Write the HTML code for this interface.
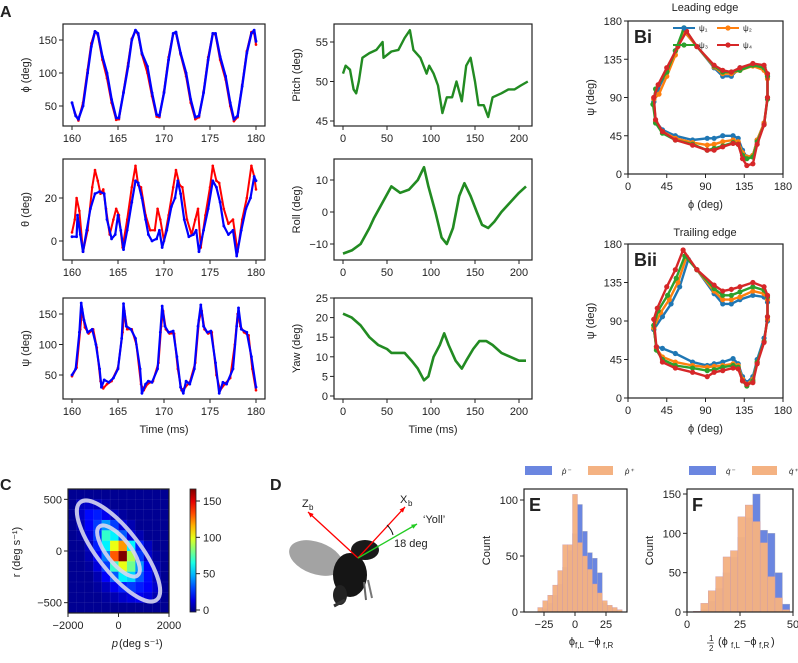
<!DOCTYPE html>
<html><head><meta charset="utf-8"><style>
body{margin:0;background:#fff}
svg{display:block;font-family:"Liberation Sans",sans-serif}
text{fill:#222}
</style></head><body>
<svg id="fig" width="798" height="663" viewBox="0 0 798 663" xmlns="http://www.w3.org/2000/svg">
<g id="g"></g>
</svg>
<script>
// ---------- DATA ----------
const phiBlue=[[160,55],[160.4,35],[160.7,30],[161.2,50],[161.7,100],[162.1,140],[162.5,163],[162.8,160],[163.3,125],[163.8,100],[164.3,60],[164.8,32],[165.1,32],[165.6,70],[166.1,110],[166.5,150],[166.9,165],[167.2,160],[167.6,130],[168.2,110],[168.7,70],[169.2,37],[169.5,35],[170,70],[170.5,120],[171,160],[171.3,162],[171.8,130],[172.4,100],[172.9,60],[173.4,33],[173.8,35],[174.3,70],[174.8,120],[175.3,160],[175.6,160],[176.1,125],[176.7,95],[177.2,55],[177.6,30],[178,35],[178.5,80],[179,130],[179.5,160],[179.8,165],[180,148]];
const phiRed=[[160.3,40],[160.7,28],[161.2,55],[161.7,105],[162.1,145],[162.5,163],[162.8,158],[163.3,120],[163.8,92],[164.3,55],[164.8,29],[165.1,30],[165.6,72],[166.1,115],[166.5,152],[166.9,164],[167.2,158],[167.6,128],[168.2,100],[168.7,65],[169.2,34],[169.5,33],[170,72],[170.5,124],[171,160],[171.3,160],[171.8,128],[172.4,95],[172.9,55],[173.4,30],[173.8,33],[174.3,72],[174.8,124],[175.3,160],[175.6,158],[176.1,120],[176.7,90],[177.2,50],[177.6,27],[178,33],[178.5,82],[179,133],[179.5,162],[179.8,160],[180,143]];
const thBlue=[[160,2],[160.5,2],[160.6,12],[160.9,3],[161.2,-5],[161.6,5],[162,15],[162.5,22],[163,23],[163.5,22],[163.8,10],[164.3,1],[164.7,3],[165,12],[165.3,5],[165.6,-4],[166,5],[166.5,18],[166.9,28],[167.2,27],[167.6,20],[168,10],[168.3,3],[168.7,0],[169.2,1],[169.5,5],[169.8,-3],[170.3,5],[170.8,16],[171.2,20],[171.5,28],[171.8,22],[172.2,10],[172.7,2],[173.2,3],[173.5,5],[173.8,-5],[174.3,5],[174.8,15],[175.3,28],[175.7,25],[176.1,18],[176.5,7],[177,3],[177.5,5],[177.9,-7],[178.4,5],[178.9,15],[179.4,20],[179.8,30],[180,28]];
const thRed=[[160,4],[160.3,10],[160.5,20],[160.8,14],[161.2,-5],[161.7,5],[162.2,25],[162.5,33],[162.8,28],[163.1,22],[163.4,24],[163.7,15],[164.1,3],[164.5,10],[164.8,15],[165.1,12],[165.5,-3],[166,10],[166.5,25],[166.9,35],[167.2,26],[167.5,25],[168,12],[168.5,5],[169,5],[169.3,15],[169.6,10],[170,0],[170.5,12],[171,25],[171.3,33],[171.7,26],[172,25],[172.5,10],[173,3],[173.4,10],[173.7,15],[174,-3],[174.5,12],[175,25],[175.3,35],[175.7,28],[176,27],[176.5,15],[177,8],[177.5,10],[178,-5],[178.5,10],[179,20],[179.5,35],[179.8,30],[180,24]];
const psiBlue=[[160,50],[160.4,60],[160.8,120],[161,168],[161.3,140],[161.7,120],[162.2,125],[162.6,100],[163,60],[163.2,30],[163.5,42],[164,38],[164.5,45],[165,60],[165.4,110],[165.6,167],[165.9,130],[166.4,125],[166.9,110],[167.4,60],[167.6,20],[168,35],[168.3,40],[168.7,38],[169.3,60],[169.6,120],[169.8,163],[170.1,130],[170.5,120],[171,122],[171.4,80],[171.8,30],[172.1,20],[172.4,40],[172.8,35],[173.3,60],[173.7,130],[174,165],[174.3,130],[174.7,120],[175.1,122],[175.6,70],[176,20],[176.4,38],[176.8,35],[177.5,60],[177.9,130],[178.1,160],[178.4,125],[179,120],[179.5,80],[180,30]];
const psiRed=[[160,48],[160.5,62],[160.9,125],[161.1,158],[161.4,128],[161.8,118],[162.3,125],[162.7,95],[163.1,40],[163.4,28],[163.8,35],[164.3,40],[165,62],[165.5,120],[165.7,155],[166,125],[166.5,125],[167,100],[167.5,35],[167.8,25],[168.2,35],[168.8,40],[169.4,70],[169.7,130],[169.9,155],[170.2,125],[170.6,118],[171.1,118],[171.5,60],[171.9,25],[172.3,30],[172.8,38],[173.4,70],[173.8,140],[174.1,155],[174.4,125],[174.8,118],[175.2,120],[175.7,50],[176.1,25],[176.6,35],[177.2,45],[177.7,100],[178,150],[178.3,130],[178.7,120],[179.2,115],[179.6,60],[180,25]];
const pitch=[[0,51],[3,52],[8,51.5],[12,49],[15,48.5],[18,50],[22,53],[30,53.6],[38,54],[45,55],[46,53],[55,53.8],[63,54],[70,55.5],[76,56.5],[80,54],[88,53],[95,51],[98,52],[103,51],[108,49.5],[113,46],[118,48],[124,48],[129,50],[135,47.5],[140,52],[145,53],[150,50],[154,47],[160,47],[165,45.5],[170,48],[180,48.5],[188,49],[195,49],[202,49.5],[210,50]];
const roll=[[0,-13],[10,-12],[20,-10],[30,-5],[35,-2],[45,3],[55,8],[65,6],[75,7],[85,10],[92,14],[97,8],[105,0],[112,-8],[118,-10],[125,-5],[132,5],[138,9],[145,5],[152,0],[158,-4],[165,-5],[172,-3],[180,0],[190,3],[200,6],[208,8]];
const yaw=[[0,21],[10,20],[20,18],[30,15],[40,13],[50,12],[55,11],[62,11],[70,11],[78,9],[85,7],[92,4],[97,5],[103,10],[110,13],[115,16],[120,13],[128,9],[135,7],[140,9],[148,12],[155,14],[163,14],[170,13],[180,11],[190,10],[200,9],[208,9]];
const loopLE1=[[30,85],[32,62],[40,52],[55,45],[75,40],[92,42],[100,42],[110,45],[122,45],[128,42],[133,28],[138,20],[145,22],[150,40],[158,60],[162,90],[162,115],[158,125],[145,128],[130,125],[120,115],[110,115],[100,125],[80,150],[65,168],[55,145],[45,120],[35,100],[30,85]];
const loopLE2=[[30,88],[32,62],[40,50],[55,42],[75,37],[92,34],[100,35],[110,38],[122,40],[128,38],[133,25],[138,20],[145,22],[150,40],[158,60],[162,90],[162,112],[158,122],[145,127],[130,122],[120,118],[110,118],[100,126],[80,150],[65,168],[55,140],[45,115],[36,94],[30,88]];
const loopLE3=[[29,82],[32,60],[40,48],[55,40],[75,35],[92,28],[100,30],[110,33],[122,37],[128,35],[133,22],[138,18],[145,20],[150,38],[158,58],[162,88],[162,115],[158,125],[145,128],[130,122],[120,120],[110,120],[100,127],[80,150],[65,172],[55,145],[45,120],[32,100],[29,82]];
const loopLE4=[[30,90],[32,64],[40,50],[55,40],[75,34],[92,28],[100,28],[110,32],[122,36],[128,35],[133,18],[138,10],[145,12],[150,35],[158,58],[162,90],[162,118],[158,128],[145,130],[130,125],[120,120],[110,122],[100,128],[80,150],[68,168],[58,150],[45,125],[35,105],[30,90]];
const loopTE1=[[30,80],[33,60],[40,58],[55,52],[75,42],[92,38],[100,40],[110,42],[122,46],[128,40],[133,25],[138,18],[145,25],[150,45],[158,70],[162,90],[162,112],[158,118],[145,120],[130,115],[120,110],[110,110],[100,122],[80,150],[70,162],[60,130],[50,110],[40,95],[30,80]];
const loopTE2=[[30,82],[33,58],[40,48],[55,42],[75,38],[92,36],[100,37],[110,38],[122,40],[128,38],[133,22],[138,16],[145,22],[150,42],[158,66],[162,92],[162,115],[158,122],[145,125],[130,118],[120,115],[110,115],[100,125],[80,150],[68,165],[58,135],[48,115],[38,100],[30,82]];
const loopTE3=[[30,85],[33,56],[40,45],[55,38],[75,35],[92,32],[100,33],[110,36],[122,38],[128,36],[133,20],[138,14],[145,20],[150,42],[158,66],[162,95],[162,118],[158,126],[145,130],[130,124],[120,120],[110,120],[100,128],[80,150],[66,166],[56,140],[46,120],[35,102],[30,85]];
const loopTE4=[[30,92],[33,60],[40,42],[55,35],[75,30],[92,25],[100,30],[110,32],[122,35],[128,34],[133,20],[138,16],[145,18],[150,40],[158,65],[162,95],[162,120],[158,130],[145,135],[130,130],[120,127],[110,125],[100,132],[80,150],[64,173],[55,150],[45,130],[34,105],[30,92]];
const heat=[
[3,3,3,3,3,3,3,3,3,3,3,3],
[3,10,12,10,6,3,3,3,3,3,3,3],
[3,12,22,25,18,10,5,3,3,3,3,3],
[3,8,20,30,45,30,15,8,3,3,3,3],
[3,5,15,30,70,60,35,15,8,3,3,3],
[3,3,10,25,60,100,120,60,25,10,3,3],
[3,3,8,20,40,130,165,90,30,12,5,3],
[3,3,5,15,30,70,100,80,45,20,8,3],
[3,3,3,8,20,35,60,55,35,22,10,3],
[3,3,3,5,10,18,25,30,25,20,12,3],
[3,3,3,3,5,8,12,15,18,15,8,3],
[3,3,3,3,3,3,3,3,3,3,3,3]];
const eBins=[-30,-26,-22,-18,-14,-10,-6,-2,2,6,10,14,18,22,26,30,34];
const eOrange=[4,10,15,24,37,60,60,105,62,50,38,25,17,10,6,4,2];
const eBlue=[0,3,8,15,25,40,55,70,96,72,53,48,35,8,5,2,0];
const fBins=[3,6.5,10,13.5,17,20.5,24,27.5,31,34.5,38,41.5,45];
const fOrange=[1,11,27,45,70,78,121,136,115,88,45,18,3];
const fBlue=[0,3,14,30,50,70,95,120,150,104,100,50,10];

// ---------- HELPERS ----------
const NS="http://www.w3.org/2000/svg";const G=document.getElementById('g');
function el(tag,at,par){const e=document.createElementNS(NS,tag);for(const k in at)e.setAttribute(k,at[k]);(par||G).appendChild(e);return e;}
function txt(x,y,s,at){const t=el('text',Object.assign({x:x,y:y,'font-size':11},at||{}));t.textContent=s;return t;}
function lin(d0,d1,p0,p1){return v=>p0+(v-d0)*(p1-p0)/(d1-d0);}
function axes(name,x0,y0,x1,y1,sx,sy,xt,yt,xl,yl){
  const g=el('g',{});
  el('rect',{x:x0,y:y0,width:x1-x0,height:y1-y0,fill:'none',stroke:'#222','stroke-width':1.2},g);
  xt.forEach(v=>{const x=sx(v);el('line',{x1:x,x2:x,y1:y1,y2:y1+4,stroke:'#222'},g);g.appendChild(txt(x,y1+16,String(v).replace('-','\u2212'),{'text-anchor':'middle'}));});
  yt.forEach(v=>{const y=sy(v);el('line',{x1:x0-4,x2:x0,y1:y,y2:y,stroke:'#222'},g);g.appendChild(txt(x0-6,y+4,String(v).replace('-','\u2212'),{'text-anchor':'end'}));});
  if(xl){g.appendChild(txt((x0+x1)/2,y1+34,xl,{'text-anchor':'middle'}));}
  if(yl){const cy=(y0+y1)/2,cx=x0-34;g.appendChild(txt(cx,cy,yl,{'text-anchor':'middle',transform:`rotate(-90 ${cx} ${cy})`}));}
  return g;}
function series(name,pts,sx,sy,col,w,dots){
  const g=el('g',{});
  el('polyline',{points:pts.map(p=>sx(p[0]).toFixed(1)+','+sy(p[1]).toFixed(1)).join(' '),fill:'none',stroke:col,'stroke-width':w,'stroke-linejoin':'round'},g);
  if(dots)pts.forEach(p=>el('circle',{cx:sx(p[0]),cy:sy(p[1]),r:dots,fill:col},g));}
function label(x,y,s,sz){return txt(x,y,s,{'font-size':sz||15,'font-weight':'bold'});}

// ---------- PANEL A ----------
label(0,17,'A',16);
const tx=lin(160,180,72,256);
let sy=lin(50,150,106,40);axes('phi-axes',63,24,265,126,tx,sy,[160,165,170,175,180],[50,100,150],null,'\u03d5 (deg)');
series('phi-red',phiRed,tx,sy,'#f00',2,1.3);series('phi-blue',phiBlue,tx,sy,'#00f',2.4,1.4);
sy=lin(0,20,241,198);axes('theta-axes',63,159,265,260,tx,sy,[160,165,170,175,180],[0,20],null,'\u03b8 (deg)');
series('theta-red',thRed,tx,sy,'#f00',2,1.3);series('theta-blue',thBlue,tx,sy,'#00f',2.2,1.4);
sy=lin(50,150,375,314);axes('psi-axes',63,298,265,399,tx,sy,[160,165,170,175,180],[50,100,150],'Time (ms)','\u03c8 (deg)');
series('psi-red',psiRed,tx,sy,'#f00',2,1.3);series('psi-blue',psiBlue,tx,sy,'#00f',2.2,1.4);
const mx=lin(0,50,343,387);
sy=lin(45,55,121,42);axes('pitch-axes',334,24,532,126,mx,sy,[0,50,100,150,200],[45,50,55],null,'Pitch (deg)');
series('pitch-line',pitch,mx,sy,'#228b22',2.4,0);
sy=lin(-10,10,244,180);axes('roll-axes',334,159,532,260,mx,sy,[0,50,100,150,200],[-10,0,10],null,'Roll (deg)');
series('roll-line',roll,mx,sy,'#228b22',2.6,0);
sy=lin(0,25,396,298);axes('yaw-axes',334,298,532,399,mx,sy,[0,50,100,150,200],[0,5,10,15,20,25],'Time (ms)','Yaw (deg)');
series('yaw-line',yaw,mx,sy,'#228b22',2.6,0);

// ---------- PANEL B ----------
const bx=lin(0,180,628,783);const cols=['#1f77b4','#ff7f0e','#2ca02c','#d62728'];
txt(705,11,'Leading edge',{'text-anchor':'middle'});
let by=lin(0,180,174,21);axes('bi-axes',628,21,783,174,bx,by,[0,45,90,135,180],[0,45,90,135,180],'\u03d5 (deg)','\u03c8 (deg)');
[loopLE1,loopLE2,loopLE3,loopLE4].forEach((l,i)=>series('bi-psi'+(i+1),l,bx,by,cols[i],2.4,2.6));
label(634,43,'Bi',18);
[['\u03c8\u2081',708,28],['\u03c8\u2082',752,28],['\u03c8\u2083',708,45],['\u03c8\u2084',752,45]].forEach((e,i)=>{
 const g=el('g',{});
 el('line',{x1:e[1]-35,x2:e[1]-13,y1:e[2],y2:e[2],stroke:cols[i],'stroke-width':2},g);el('circle',{cx:e[1]-24,cy:e[2],r:2.6,fill:cols[i]},g);
 g.appendChild(txt(e[1]-9,e[2]+3,e[0],{'font-size':8}));});
txt(705,236,'Trailing edge',{'text-anchor':'middle'});
by=lin(0,180,398,244);axes('bii-axes',628,244,783,398,bx,by,[0,45,90,135,180],[0,45,90,135,180],'\u03d5 (deg)','\u03c8 (deg)');
[loopTE1,loopTE2,loopTE3,loopTE4].forEach((l,i)=>series('bii-psi'+(i+1),l,bx,by,cols[i],2.4,2.6));
label(634,266,'Bii',18);

// ---------- PANEL C ----------
label(0,490,'C',16);
function jet(v){const t=Math.max(0,Math.min(1,v/165));const r=Math.min(4*t-1.5,-4*t+4.5),g=Math.min(4*t-0.5,-4*t+3.5),b=Math.min(4*t+0.5,-4*t+2.5);const c=x=>Math.round(255*Math.max(0,Math.min(1,x)));return `rgb(${c(r)},${c(g)},${c(b)})`;}
const cx=lin(-2000,2000,68,169),cy=lin(-600,600,613,489);
const cw=(169-68)/heat[0].length,ch=(613-489)/heat.length;
heat.forEach((row,i)=>row.forEach((v,j)=>{const r=el('rect',{x:68+j*cw,y:489+i*ch,width:cw+0.3,height:ch+0.3,fill:jet(v),stroke:'rgba(255,255,255,0.12)','stroke-width':0.4});
 }));
el('ellipse',{cx:cx(0),cy:cy(0),rx:62,ry:21,transform:`rotate(52 ${cx(0)} ${cy(0)})`,fill:'none',stroke:'rgba(215,215,240,0.9)','stroke-width':4});
el('ellipse',{cx:cx(0),cy:cy(0),rx:31,ry:12,transform:`rotate(52 ${cx(0)} ${cy(0)})`,fill:'none',stroke:'rgba(215,215,240,0.9)','stroke-width':4});
axes('c-axes',68,489,169,613,cx,cy,[-2000,0,2000],[-500,0,500],null,null);
txt(118,647,'p',{'font-style':'italic','text-anchor':'end'});txt(119,647,' (deg s\u207b\u00b9)',{});
txt(20,552,'r (deg s\u207b\u00b9)',{'text-anchor':'middle',transform:'rotate(-90 20 552)'});
const cbg=el('defs',{});const lg=el('linearGradient',{id:'jetg',x1:0,y1:1,x2:0,y2:0},cbg);
for(let k=0;k<=10;k++)el('stop',{offset:k/10,'stop-color':jet(k*16.5)},lg);
const cb=el('rect',{x:190,y:489,width:6,height:123,fill:'url(#jetg)',stroke:'#222','stroke-width':0.8});
const cby=lin(0,150,610,501);[0,50,100,150].forEach(v=>{el('line',{x1:196,x2:200,y1:cby(v),y2:cby(v),stroke:'#222'});txt(203,cby(v)+4,String(v));});

// ---------- PANEL D ----------
label(270,490,'D',16);
const fly=el('g',{});
el('ellipse',{cx:316,cy:558,rx:28,ry:16,transform:'rotate(20 316 558)',fill:'#8c8c8c',opacity:0.8},fly);
el('ellipse',{cx:350,cy:575,rx:17,ry:22,fill:'#151515'},fly);
el('ellipse',{cx:365,cy:550,rx:14,ry:10,fill:'#1a1a1a'},fly);
el('ellipse',{cx:340,cy:595,rx:7,ry:10,fill:'#222'},fly);
el('line',{x1:345,y1:600,x2:334,y2:606,stroke:'#333','stroke-width':3},fly);
el('line',{x1:368,y1:580,x2:372,y2:598,stroke:'#777','stroke-width':2},fly);
el('line',{x1:364,y1:582,x2:366,y2:600,stroke:'#666','stroke-width':2},fly);
function arrow(name,x1,y1,x2,y2,c){const g=el('g',{});
 el('line',{x1,y1,x2,y2,stroke:c,'stroke-width':1.3},g);const a=Math.atan2(y2-y1,x2-x1),L=6;
 el('polygon',{points:`${x2},${y2} ${x2-L*Math.cos(a-0.4)},${y2-L*Math.sin(a-0.4)} ${x2-L*Math.cos(a+0.4)},${y2-L*Math.sin(a+0.4)}`,fill:c},g);}
arrow('zb-arrow',358,558,308,512,'#f00');arrow('xb-arrow',358,558,405,507,'#f00');arrow('yoll-arrow',358,558,417,524,'#2c2');
el('path',{d:'M387,525 Q392,530 393,535',fill:'none',stroke:'#111','stroke-width':1});
txt(302,507,'Z',{});txt(309,510,'b',{'font-size':8});txt(400,503,'X',{});txt(408,506,'b',{'font-size':8});
txt(423,523,'\u2018Yoll\u2019',{});txt(394,547,'18 deg',{});

// ---------- PANELS E / F ----------
function hist(name,x0,y0,x1,y1,sx,sy,bins,bw,A,B,xt,yt,lab,leg,lx){
 const g=el('g',{});
 bins.forEach((b,i)=>{el('rect',{x:sx(b),y:sy(B[i]),width:sx(b+bw)-sx(b),height:sy(0)-sy(B[i]),fill:'#6b86e0',stroke:'#aab','stroke-width':0.4},g);});
 bins.forEach((b,i)=>{el('rect',{x:sx(b),y:sy(A[i]),width:sx(b+bw)-sx(b),height:sy(0)-sy(A[i]),fill:'rgba(244,178,130,0.97)',stroke:'#c9a','stroke-width':0.4},g);});
 axes(name+'-axes',x0,y0,x1,y1,sx,sy,xt,yt,null,'Count');
 g.appendChild(label(x0+5,y0+22,lab,18));
 el('rect',{x:lx,y:y0-23,width:27,height:9,fill:'#6b86e0'},g);g.appendChild(txt(lx+37,y0-15,leg[0],{'font-size':8,'font-style':'italic'}));
 el('rect',{x:lx+63,y:y0-23,width:25,height:9,fill:'#f4b282'},g);g.appendChild(txt(lx+100,y0-15,leg[1],{'font-size':8,'font-style':'italic'}));}
hist('hist-e',524,489,627,612,lin(-25,25,544,606),lin(0,100,612,500),eBins,4,eOrange,eBlue,[-25,0,25],[0,50,100],'E',['p\u0307\u207b','p\u0307\u207a'],525);
txt(575,645,'\u03d5',{'text-anchor':'end'});txt(575,648,'f,L',{'font-size':8});txt(588,645,'\u2212\u03d5',{});txt(603,648,'f,R',{'font-size':8});
hist('hist-f',687,489,793,612,lin(0,50,687,793),lin(0,150,612,494),fBins,3.5,fOrange,fBlue,[0,25,50],[0,50,100,150],'F',['q\u0307\u207b','q\u0307\u207a'],689);
txt(709,641,'1',{'font-size':8});el('line',{x1:707,x2:714,y1:643,y2:643,stroke:'#222','stroke-width':0.7});txt(709,651,'2',{'font-size':8});
txt(718,645,'(\u03d5',{});txt(731,648,'f,L',{'font-size':8});txt(744,645,'\u2212\u03d5',{});txt(759,648,'f,R',{'font-size':8});txt(771,645,')',{});
</script>
</body></html>
